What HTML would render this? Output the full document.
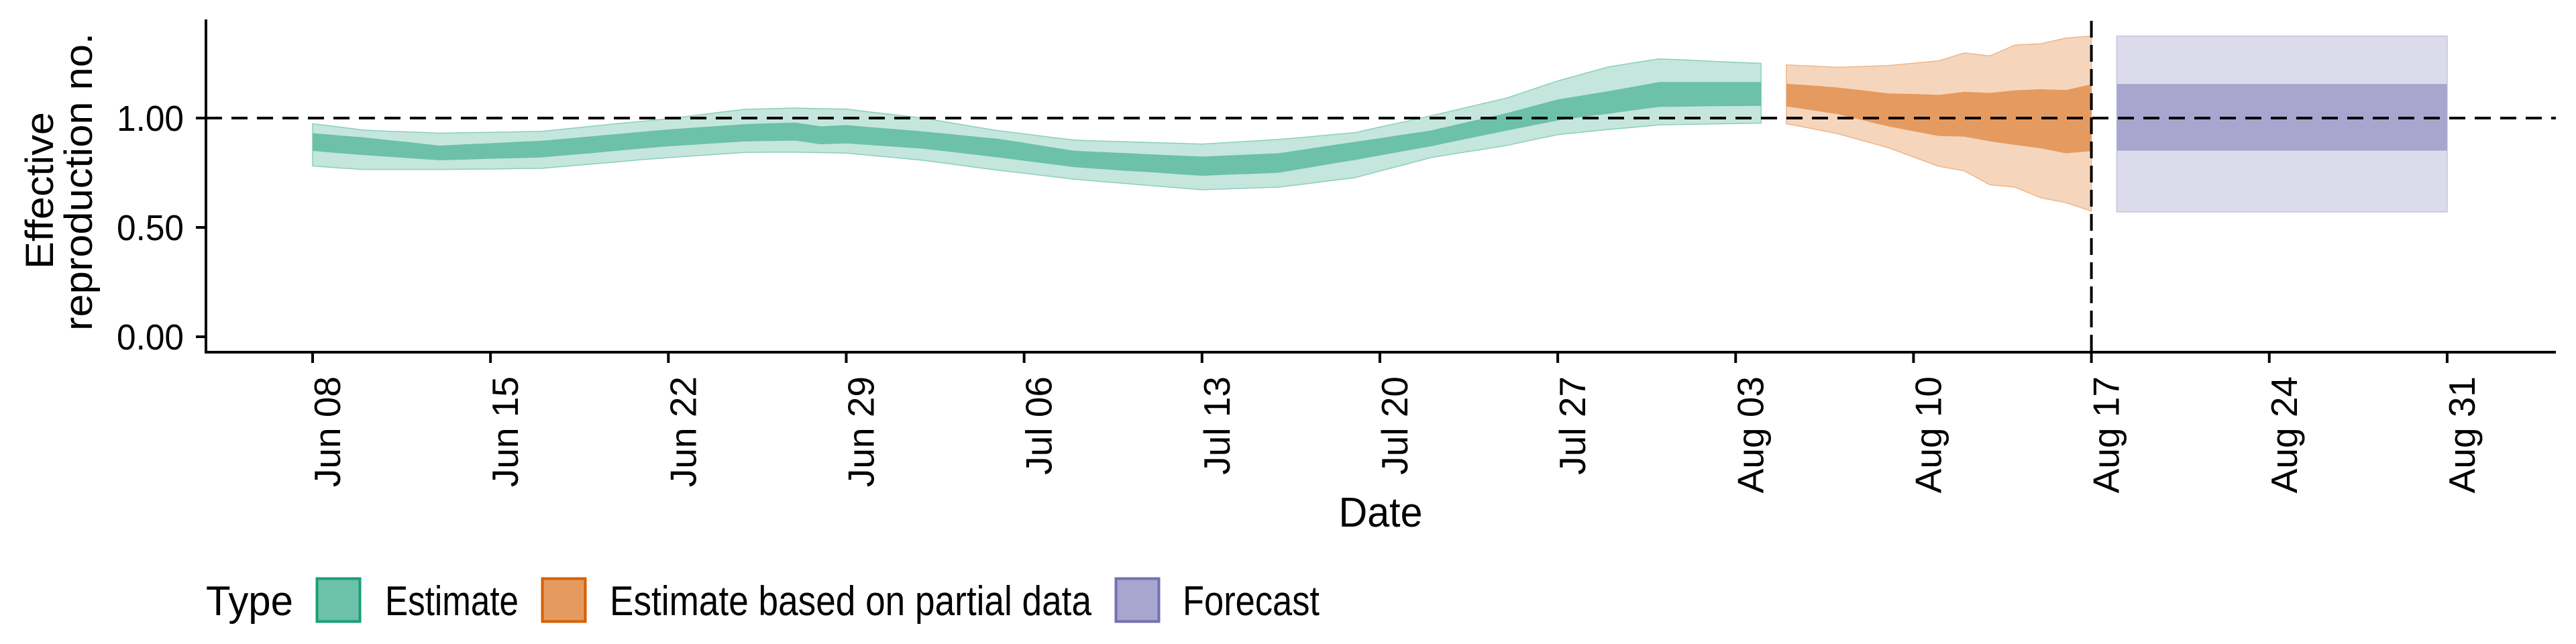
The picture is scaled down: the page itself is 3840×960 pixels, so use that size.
<!DOCTYPE html>
<html><head><meta charset="utf-8"><style>
html,body{margin:0;padding:0;background:#fff;}
svg{display:block;font-family:"Liberation Sans",sans-serif;}
</style></head><body>
<svg id="chart" width="3840" height="960" viewBox="0 0 3840 960" xmlns="http://www.w3.org/2000/svg">
<g id="bands"></g>
<g id="axes"></g>
<g font-size="58" fill="#000">
<text transform="translate(79,284) rotate(-90)" text-anchor="middle" textLength="234" lengthAdjust="spacingAndGlyphs">Effective</text>
<text transform="translate(137,271) rotate(-90)" text-anchor="middle" textLength="444" lengthAdjust="spacingAndGlyphs">reproduction no.</text>
</g>
<text x="2058" y="785" text-anchor="middle" font-size="62" textLength="125" lengthAdjust="spacingAndGlyphs">Date</text>
<g font-size="62">
<text x="307" y="917" textLength="130" lengthAdjust="spacingAndGlyphs">Type</text>
<g>
<rect x="472.5" y="862.5" width="64" height="64" fill="#6cc1a8" stroke="#1b9e77" stroke-width="4"/>
<text x="574" y="917" textLength="199" lengthAdjust="spacingAndGlyphs">Estimate</text></g>
<g>
<rect x="808.5" y="862.5" width="64" height="64" fill="#e59a60" stroke="#d95f02" stroke-width="4"/>
<text x="909" y="917" textLength="718" lengthAdjust="spacingAndGlyphs">Estimate based on partial data</text></g>
<g>
<rect x="1663.5" y="862.5" width="64" height="64" fill="#a8a6cf" stroke="#7570b3" stroke-width="4"/>
<text x="1763" y="917" textLength="204" lengthAdjust="spacingAndGlyphs">Forecast</text></g>
</g>
</svg>
<script>
// ---- data ----
const tickLabels = ["Jun 08","Jun 15","Jun 22","Jun 29","Jul 06","Jul 13","Jul 20","Jul 27","Aug 03","Aug 10","Aug 17","Aug 24","Aug 31"];
const yTicks = [0, 0.5, 1.0];
const yTickLabels = ["0.00","0.50","1.00"];
const estStartDay = 0;
const estLower90 = [.781,.772,.765,.765,.765,.765,.766,.767,.769,.770,.780,.790,.800,.810,.819,.827,.835,.843,.844,.844,.842,.840,.829,.818,.807,.792,.776,.761,.748,.734,.720,.710,.701,.691,.682,.672,.676,.680,.684,.698,.713,.727,.758,.788,.819,.838,.856,.875,.900,.924,.936,.948,.958,.969,.971,.973,.975,.977];
const estLower50 = [.850,.840,.831,.823,.815,.807,.810,.814,.817,.820,.830,.840,.851,.861,.871,.878,.886,.893,.895,.897,.880,.884,.876,.868,.860,.847,.833,.820,.805,.790,.775,.767,.759,.752,.744,.736,.741,.745,.750,.769,.789,.808,.829,.850,.871,.895,.919,.943,.966,.989,1.005,1.02,1.036,1.051,1.052,1.054,1.055,1.056];
const estUpper50 = [.931,.921,.912,.899,.887,.874,.880,.885,.891,.896,.906,.917,.927,.938,.948,.956,.964,.972,.976,.979,.962,.968,.958,.949,.939,.928,.916,.905,.887,.868,.850,.845,.840,.834,.829,.824,.829,.834,.839,.856,.874,.891,.908,.926,.943,.970,.996,1.023,1.054,1.085,1.104,1.123,1.144,1.165,1.165,1.165,1.165,1.165];
const estUpper90 = [.974,.960,.945,.940,.936,.931,.933,.935,.937,.939,.951,.963,.975,.986,.997,1.011,1.026,1.040,1.043,1.046,1.043,1.041,1.027,1.014,1.0,.981,.961,.942,.928,.913,.899,.895,.892,.888,.885,.881,.888,.895,.902,.912,.923,.933,.959,.984,1.01,1.037,1.065,1.092,1.131,1.17,1.202,1.234,1.253,1.271,1.266,1.260,1.255,1.25];
const partStartDay = 58;
const partLower90 = [.974,.952,.929,.897,.865,.822,.779,.759,.695,.684,.636,.613,.575];
const partLower50 = [1.053,1.036,1.018,.99,.962,.94,.918,.915,.894,.877,.862,.839,.849];
const partUpper50 = [1.157,1.149,1.14,1.127,1.113,1.11,1.106,1.12,1.115,1.127,1.132,1.128,1.155];
const partUpper90 = [1.243,1.238,1.232,1.236,1.24,1.251,1.262,1.298,1.284,1.334,1.34,1.366,1.375];
const fcStartDay = 71;
const fcEndDay = 84;
const fcLower90 = [0.571];
const fcLower50 = [0.851];
const fcUpper50 = [1.156];
const fcUpper90 = [1.375];
const refLineValue = 1.0;
const cutoffDay = 70;

// ---- scales ----
const X0 = 466, PX_PER_DAY = 37.88;
function xs(d){ return X0 + d*PX_PER_DAY; }
function ys(v){ return 502 - v*326; }
const NS = "http://www.w3.org/2000/svg";
function mk(tag, attrs, parent){ const e=document.createElementNS(NS,tag); for(const k in attrs) e.setAttribute(k,attrs[k]); parent.appendChild(e); return e; }
const bands = document.getElementById('bands');
const axes = document.getElementById('axes');

function ribbon(start, lo, hi, fill, stroke, name){
  let pts = [];
  for(let i=0;i<lo.length;i++) pts.push(xs(start+i).toFixed(1)+","+ys(hi[i]).toFixed(1));
  for(let i=lo.length-1;i>=0;i--) pts.push(xs(start+i).toFixed(1)+","+ys(lo[i]).toFixed(1));
  const p = mk('polygon',{points:pts.join(" "),fill:fill,stroke:stroke,"stroke-width":1.5},bands);
  
  
}
ribbon(estStartDay, estLower90, estUpper90, "#c5e6dc", "#8ccfba", "estimate-90-band");
ribbon(estStartDay, estLower50, estUpper50, "#6cc1a8", "none", "estimate-50-band");
ribbon(partStartDay, partLower90, partUpper90, "#f5d6bd", "#eeb58c", "partial-90-band");
ribbon(partStartDay, partLower50, partUpper50, "#e59a60", "none", "partial-50-band");
function box(lo, hi, fill, stroke, name){
  const r = mk('rect',{x:xs(fcStartDay),y:ys(hi),width:xs(fcEndDay)-xs(fcStartDay),height:ys(lo)-ys(hi),fill:fill,stroke:stroke,"stroke-width":1.5},bands);
  
  
}
box(fcLower90[0], fcUpper90[0], "#dcdbeb", "#c3c1dc", "forecast-90-band");
box(fcLower50[0], fcUpper50[0], "#a8a6cf", "none", "forecast-50-band");

// reference lines
const hl = mk('line',{x1:307,x2:3810,y1:ys(refLineValue),y2:ys(refLineValue),stroke:"#000","stroke-width":4,"stroke-dasharray":"24 14"},axes);


const vl = mk('line',{x1:xs(cutoffDay),x2:xs(cutoffDay),y1:31,y2:525,stroke:"#000","stroke-width":4,"stroke-dasharray":"25 11"},axes);



// axes lines
const ya = mk('line',{x1:307,x2:307,y1:29,y2:527,stroke:"#000","stroke-width":4},axes);


const xa = mk('line',{x1:305,x2:3810,y1:525,y2:525,stroke:"#000","stroke-width":4},axes);



yTicks.forEach((v,i)=>{
  const t = mk('line',{x1:292,x2:307,y1:ys(v),y2:ys(v),stroke:"#000","stroke-width":4},axes);
  
  
  const l = mk('text',{x:274,y:ys(v)+19,"text-anchor":"end","font-size":54,textLength:100,lengthAdjust:"spacingAndGlyphs"},axes);
  l.textContent = yTickLabels[i];
  
  
});
tickLabels.forEach((s,i)=>{
  const x = xs(i*7);
  const t = mk('line',{x1:x,x2:x,y1:525,y2:541,stroke:"#000","stroke-width":4},axes);
  
  
  const l = mk('text',{transform:"translate("+(x+41)+",561) rotate(-90)","text-anchor":"end","font-size":55},axes);
  l.textContent = s;
  
  
});
</script>
</body></html>
